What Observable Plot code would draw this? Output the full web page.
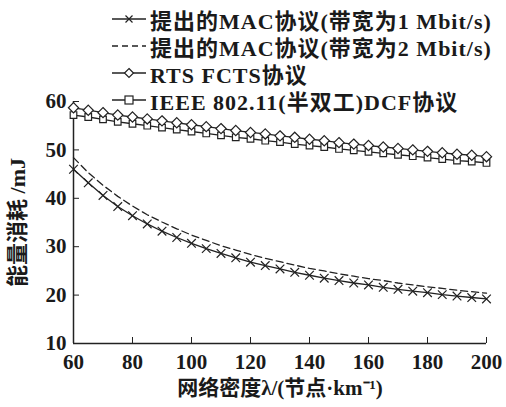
<!DOCTYPE html>
<html>
<head>
<meta charset="utf-8">
<script src="https://cdn.jsdelivr.net/npm/d3@7"></script>
<script src="https://cdn.jsdelivr.net/npm/@observablehq/plot@0.6"></script>
<style>
  body { margin: 0; background: #fff; }
  #wrap { position: relative; width: 506px; height: 407px; overflow: hidden; }
  #legend { position: absolute; left: 112px; top: 5px; font-family: "Liberation Serif", "Noto Sans CJK SC", serif; font-weight: bold; font-size: 22px; letter-spacing: 1px; color: #1a1a1a; }
  .row { display: flex; align-items: center; height: 27px; white-space: nowrap; }
  .row svg { margin-right: 4px; flex: none; }
</style>
</head>
<body>
<div id="wrap"><div id="legend"></div></div>
<script>
// Data
const density = [60,65,70,75,80,85,90,95,100,105,110,115,120,125,130,135,140,145,150,155,160,165,170,175,180,185,190,195,200];
const mac1 = [46.0,43.2,40.6,38.3,36.4,34.7,33.2,31.9,30.7,29.6,28.6,27.7,26.8,26.1,25.4,24.7,24.1,23.5,23.0,22.5,22.1,21.6,21.2,20.8,20.5,20.1,19.8,19.5,19.2];
const mac2 = [48.4,45.3,42.7,40.4,38.4,36.6,35.1,33.7,32.4,31.3,30.2,29.3,28.4,27.6,26.9,26.2,25.5,25.0,24.4,23.9,23.4,23.0,22.5,22.1,21.7,21.4,21.0,20.7,20.4];
const rts  = [58.7,58.2,57.7,57.2,56.8,56.4,56.0,55.6,55.2,54.8,54.4,54.0,53.6,53.3,52.9,52.6,52.2,51.9,51.5,51.2,50.9,50.6,50.3,50.0,49.7,49.4,49.1,48.9,48.6];
const ieee = [57.2,56.8,56.3,55.8,55.4,55.0,54.6,54.2,53.8,53.4,53.0,52.6,52.3,51.9,51.6,51.2,50.9,50.6,50.2,49.9,49.6,49.3,49.0,48.7,48.4,48.1,47.8,47.6,47.3];
const xTicks = [60,80,100,120,140,160,180,200];
const yTicks = [10,20,30,40,50,60];
const seriesNames = ["提出的MAC协议(带宽为1 Mbit/s)", "提出的MAC协议(带宽为2 Mbit/s)", "RTS FCTS协议", "IEEE 802.11(半双工)DCF协议"];
const xLabel = "网络密度λ/(节点·km⁻¹)";
const yLabel = "能量消耗 /mJ";

const toRows = (vals) => density.map((x, i) => ({x, y: vals[i]}));
const d1 = toRows(mac1), d2 = toRows(mac2), d3 = toRows(rts), d4 = toRows(ieee);
const ink = "#222";
const font = '"Liberation Serif", "Noto Sans CJK SC", serif';

const chart = Plot.plot({
  width: 506,
  height: 407,
  marginLeft: 73,
  marginRight: 20,
  marginTop: 101,
  marginBottom: 64,
  style: {fontFamily: font, fontSize: "21px", fontWeight: "bold", color: "#1a1a1a", background: "white"},
  x: {domain: [60, 200]},
  y: {domain: [10, 60]},
  marks: [
    Plot.ruleX([60], {y1: 10, y2: 60, stroke: ink, strokeWidth: 1.5}),
    Plot.ruleY([10], {x1: 60, x2: 200, stroke: ink, strokeWidth: 1.5}),
    Plot.axisX({ticks: xTicks, tickSize: -6, tickPadding: 17, tickFormat: d => d, fontSize: 21, label: null, stroke: ink}),
    Plot.axisY({ticks: yTicks, tickSize: -6, tickPadding: 13, tickFormat: d => d, fontSize: 21, label: null, stroke: ink}),
    Plot.text([xLabel], {frameAnchor: "bottom", lineAnchor: "middle", textAnchor: "middle", dy: 45, fontSize: 21, fill: "#1a1a1a"}),
    Plot.text([yLabel], {frameAnchor: "left", textAnchor: "middle", lineAnchor: "middle", dx: -56, rotate: -90, fontSize: 22, fill: "#1a1a1a"}),
    Plot.line(d2, {x: "x", y: "y", stroke: ink, strokeWidth: 1.3, strokeDasharray: "7,4"}),
    Plot.line(d1, {x: "x", y: "y", stroke: ink, strokeWidth: 1.3}),
    Plot.line(d4, {x: "x", y: "y", stroke: ink, strokeWidth: 1.3}),
    Plot.line(d3, {x: "x", y: "y", stroke: ink, strokeWidth: 1.3}),
    Plot.dot(d1, {x: "x", y: "y", symbol: "times", r: 4, stroke: ink, strokeWidth: 1.2}),
    Plot.dot(d4, {x: "x", y: "y", symbol: "square2", r: 4.2, fill: "white", stroke: ink, strokeWidth: 1.2}),
    Plot.dot(d3, {x: "x", y: "y", symbol: "diamond2", r: 4.6, fill: "white", stroke: ink, strokeWidth: 1.2})
  ]
});
document.getElementById("wrap").prepend(chart);

// Legend (HTML above the plot area)
const samples = [
  `<line x1="0" y1="6" x2="34" y2="6" stroke="${ink}" stroke-width="1.3"/><path d="M13.5,2.5L20.5,9.5M20.5,2.5L13.5,9.5" stroke="${ink}" stroke-width="1.2"/>`,
  `<line x1="0" y1="6" x2="34" y2="6" stroke="${ink}" stroke-width="1.3" stroke-dasharray="6,4"/>`,
  `<line x1="0" y1="6" x2="34" y2="6" stroke="${ink}" stroke-width="1.3"/><path d="M17,1.5L21.5,6L17,10.5L12.5,6Z" fill="white" stroke="${ink}" stroke-width="1.2"/>`,
  `<line x1="0" y1="6" x2="34" y2="6" stroke="${ink}" stroke-width="1.3"/><rect x="13" y="2" width="8" height="8" fill="white" stroke="${ink}" stroke-width="1.2"/>`
];
const legend = document.getElementById("legend");
seriesNames.forEach((name, i) => {
  const row = document.createElement("div");
  row.className = "row";
  row.innerHTML = `<svg width="34" height="12">${samples[i]}</svg><span>${name}</span>`;
  legend.appendChild(row);
});
</script>
</body>
</html>
